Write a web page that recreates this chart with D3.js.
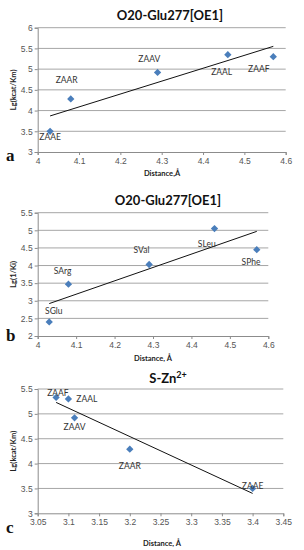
<!DOCTYPE html>
<html>
<head>
<meta charset="utf-8">
<script src="https://cdn.jsdelivr.net/npm/d3@7"></script>
<style>
  body { margin: 0; background: #fff; }
  svg { display: block; font-family: Lato, "Open Sans", sans-serif; }
</style>
</head>
<body>
<div id="graph"></div>
<script>
// panel a
const namesA = ['ZAAE', 'ZAAR', 'ZAAV', 'ZAAL', 'ZAAF'];
const distA = [4.03, 4.08, 4.29, 4.46, 4.57];
const lgA = [3.5, 4.28, 4.92, 5.35, 5.30];
const trendA = [[4.03, 3.87], [4.57, 5.55]];
const labelPosA = [[4.03, 3.36], [4.07, 4.74], [4.27, 5.24], [4.445, 4.94], [4.535, 5.0]];
const xTicksA = [4, 4.1, 4.2, 4.3, 4.4, 4.5, 4.6];
const yTicksA = [3, 3.5, 4, 4.5, 5, 5.5, 6];

// panel b
const namesB = ['SGlu', 'SArg', 'SVal', 'SLeu', 'SPhe'];
const distB = [4.03, 4.08, 4.29, 4.46, 4.57];
const lgB = [2.4, 3.47, 4.03, 5.05, 4.45];
const trendB = [[4.03, 2.92], [4.57, 4.97]];
const labelPosB = [[4.042, 2.7], [4.065, 3.84], [4.27, 4.45], [4.44, 4.62], [4.555, 4.1]];
const xTicksB = [4, 4.1, 4.2, 4.3, 4.4, 4.5, 4.6];
const yTicksB = [2, 2.5, 3, 3.5, 4, 4.5, 5, 5.5];

// panel c
const namesC = ['ZAAF', 'ZAAL', 'ZAAV', 'ZAAR', 'ZAAE'];
const distC = [3.08, 3.10, 3.11, 3.20, 3.40];
const lgC = [5.33, 5.30, 4.92, 4.29, 3.50];
const trendC = [[3.08, 5.23], [3.40, 3.40]];
const labelPosC = [[3.083, 5.42], [3.13, 5.29], [3.11, 4.73], [3.2, 3.95], [3.40, 3.54]];
const xTicksC = [3.05, 3.1, 3.15, 3.2, 3.25, 3.3, 3.35, 3.4, 3.45];
const yTicksC = [3, 3.5, 4, 4.5, 5, 5.5];

const width = 304, height = 550;
const svg = d3.select('#graph').append('svg')
  .attr('width', width).attr('height', height);

function drawPanel(o) {
  const g = svg.append('g');
  const x = d3.scaleLinear().domain(o.xDomain).range([37.7, o.right]);
  const y = d3.scaleLinear().domain(o.yDomain).range([o.bottom, o.top]);

  // title
  const t = g.append('text')
    .attr('x', o.titleX).attr('y', o.titleY)
    .attr('text-anchor', 'middle')
    .attr('font-size', 13).attr('font-weight', 'bold').attr('fill', '#111');
  if (o.titleSup) {
    t.append('tspan').text(o.title);
    t.append('tspan').text(o.titleSup).attr('font-size', 9).attr('dy', -5);
  } else {
    t.text(o.title);
  }

  // gridlines
  g.append('g').selectAll('line')
    .data(o.yTicks.slice(1))
    .enter().append('line')
    .attr('x1', x.range()[0]).attr('x2', x.range()[1])
    .attr('y1', d => y(d)).attr('y2', d => y(d))
    .attr('stroke', '#a6a6a6').attr('stroke-width', 1);

  // axes
  const yAxis = g.append('g')
    .attr('transform', `translate(${x.range()[0]},0)`)
    .call(d3.axisLeft(y).tickValues(o.yTicks).tickSize(3).tickPadding(2).tickFormat(d3.format('')));
  const xAxis = g.append('g')
    .attr('transform', `translate(0,${o.bottom})`)
    .call(d3.axisBottom(x).tickValues(o.xTicks).tickSize(3).tickPadding(3).tickFormat(d3.format('')));
  [xAxis, yAxis].forEach(a => {
    a.select('.domain').attr('stroke', '#8c8c8c');
    a.selectAll('.tick line').attr('stroke', '#8c8c8c');
    a.selectAll('.tick text').attr('fill', '#555').attr('font-size', 8.5);
  });

  // axis titles
  g.append('text')
    .attr('transform', `translate(16,${(o.top + o.bottom) / 2}) rotate(-90)`)
    .attr('text-anchor', 'middle')
    .attr('font-size', 7.5).attr('font-weight', 'bold').attr('fill', '#222')
    .text(o.yLabel);
  g.append('text')
    .attr('x', o.xLabelX).attr('y', o.xLabelY)
    .attr('text-anchor', 'middle')
    .attr('font-size', 7.5).attr('font-weight', 'bold').attr('fill', '#222')
    .text(o.xLabel);

  // panel letter
  g.append('text')
    .attr('x', 6).attr('y', o.letterY)
    .attr('font-family', '"Liberation Serif", serif')
    .attr('font-size', 17).attr('font-weight', 'bold').attr('fill', '#111')
    .text(o.letter);

  // trend line
  g.append('line')
    .attr('x1', x(o.trend[0][0])).attr('y1', y(o.trend[0][1]))
    .attr('x2', x(o.trend[1][0])).attr('y2', y(o.trend[1][1]))
    .attr('stroke', '#111').attr('stroke-width', 1);

  // points (diamonds)
  const diamond = d3.symbol().type(d3.symbolDiamond2).size(34);
  g.append('g').selectAll('path')
    .data(o.dist)
    .enter().append('path')
    .attr('d', diamond)
    .attr('transform', (d, i) => `translate(${x(d)},${y(o.lg[i])})`)
    .attr('fill', '#4a7ebb');

  // point labels
  g.append('g').selectAll('text')
    .data(o.names)
    .enter().append('text')
    .attr('x', (d, i) => x(o.labelPos[i][0]))
    .attr('y', (d, i) => y(o.labelPos[i][1]))
    .attr('text-anchor', 'middle')
    .attr('dy', '0.35em')
    .attr('font-size', 8.5).attr('fill', '#333')
    .text(d => d);
}

drawPanel({
  title: 'O20-Glu277[OE1]', titleX: 170, titleY: 20,
  xDomain: [4, 4.6], yDomain: [3, 6], right: 285.7, top: 27.7, bottom: 152,
  xTicks: xTicksA, yTicks: yTicksA,
  names: namesA, dist: distA, lg: lgA, trend: trendA, labelPos: labelPosA,
  yLabel: 'Lg(kcat/Km)', xLabel: 'Distance,Å', xLabelX: 162, xLabelY: 176,
  letter: 'a', letterY: 161
});

drawPanel({
  title: 'O20-Glu277[OE1]', titleX: 168, titleY: 205,
  xDomain: [4, 4.6], yDomain: [2, 5.5], right: 268.3, top: 212.7, bottom: 336,
  xTicks: xTicksB, yTicks: yTicksB,
  names: namesB, dist: distB, lg: lgB, trend: trendB, labelPos: labelPosB,
  yLabel: 'Lg(1/Ki)', xLabel: 'Distance, Å', xLabelX: 153, xLabelY: 361,
  letter: 'b', letterY: 341
});

drawPanel({
  title: 'S-Zn', titleSup: '2+', titleX: 168, titleY: 383,
  xDomain: [3.05, 3.45], yDomain: [3, 5.5], right: 283.3, top: 389, bottom: 513.3,
  xTicks: xTicksC, yTicks: yTicksC,
  names: namesC, dist: distC, lg: lgC, trend: trendC, labelPos: labelPosC,
  yLabel: 'Lg(kcat/Km)', xLabel: 'Distance, Å', xLabelX: 162, xLabelY: 546,
  letter: 'c', letterY: 533
});
</script>
</body>
</html>
